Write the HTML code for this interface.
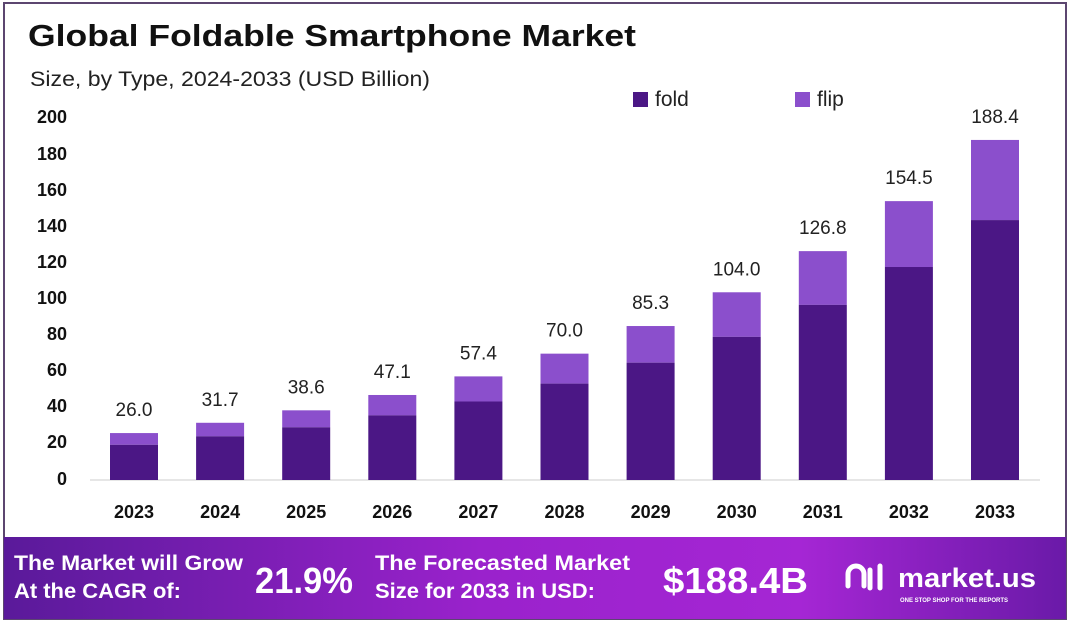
<!DOCTYPE html>
<html><head><meta charset="utf-8"><style>
html,body{margin:0;padding:0;background:#fff;}
body{width:1070px;height:622px;overflow:hidden;font-family:"Liberation Sans",sans-serif;}
</style></head><body>
<svg width="1070" height="622" viewBox="0 0 1070 622" xmlns="http://www.w3.org/2000/svg" font-family="Liberation Sans, sans-serif">
<defs>
<linearGradient id="bn" x1="0" y1="0" x2="1" y2="0">
<stop offset="0" stop-color="#5a1a9a"/>
<stop offset="0.45" stop-color="#9a22cc"/>
<stop offset="0.75" stop-color="#a526d4"/>
<stop offset="1" stop-color="#6a1aa8"/>
</linearGradient>
</defs>
<rect x="0" y="0" width="1070" height="622" fill="#fff"/>
<rect x="4" y="3" width="1062" height="616" fill="none" stroke="#5c4670" stroke-width="2"/>
<text x="28" y="46" font-size="31" font-weight="bold" fill="#111" textLength="608" lengthAdjust="spacingAndGlyphs">Global Foldable Smartphone Market</text>
<text x="30" y="86" font-size="21" fill="#222" textLength="400" lengthAdjust="spacingAndGlyphs">Size, by Type, 2024-2033 (USD Billion)</text>
<rect x="633" y="92" width="15" height="15" fill="#4b1785"/>
<text x="655" y="106" font-size="21" fill="#222">fold</text>
<rect x="795" y="92" width="15" height="15" fill="#8b4fcc"/>
<text x="817" y="106" font-size="21" fill="#222">flip</text>
<g font-size="18" font-weight="bold" fill="#111" text-anchor="end">
<text x="67" y="123">200</text><text x="67" y="160">180</text><text x="67" y="196">160</text>
<text x="67" y="232">140</text><text x="67" y="268">120</text><text x="67" y="304">100</text>
<text x="67" y="340">80</text><text x="67" y="376">60</text><text x="67" y="412">40</text>
<text x="67" y="448">20</text><text x="67" y="485">0</text>
</g>
<line x1="90" y1="480" x2="1040" y2="480" stroke="#ccc" stroke-width="1"/>
<g id="bars"></g>
<g font-size="18" font-weight="bold" fill="#111" text-anchor="middle" id="xl"></g>
<g font-size="19" fill="#222" text-anchor="middle" id="vl"></g>
<rect x="4" y="537" width="1062" height="82" fill="url(#bn)"/>
<g fill="#fff" font-weight="bold">
<text x="14" y="570" font-size="21" textLength="229" lengthAdjust="spacingAndGlyphs">The Market will Grow</text>
<text x="14" y="598" font-size="21" textLength="167" lengthAdjust="spacingAndGlyphs">At the CAGR of:</text>
<text x="255" y="593" font-size="36" textLength="98" lengthAdjust="spacingAndGlyphs">21.9%</text>
<text x="375" y="570" font-size="21" textLength="255" lengthAdjust="spacingAndGlyphs">The Forecasted Market</text>
<text x="375" y="598" font-size="21" textLength="220" lengthAdjust="spacingAndGlyphs">Size for 2033 in USD:</text>
<text x="663" y="593" font-size="36" textLength="145" lengthAdjust="spacingAndGlyphs">$188.4B</text>
<text x="898" y="587" font-size="27" textLength="138" lengthAdjust="spacingAndGlyphs">market.us</text>
<text x="900" y="602" font-size="6">ONE STOP SHOP FOR THE REPORTS</text>
</g>
<path d="M848 586 v-12 a8 8 0 0 1 16 0 v12 M870 570 v18 M880 566 v22" stroke="#fff" stroke-width="5" fill="none" stroke-linecap="round"/>
</svg>
<script>
var tot=[26.0,31.7,38.6,47.1,57.4,70.0,85.3,104.0,126.8,154.5,188.4];
var fold=[19.5,24.2,29.2,35.8,43.5,53.4,65,79.3,97,118,144];
var b=document.getElementById('bars'),xl=document.getElementById('xl'),vl=document.getElementById('vl');
var ns='http://www.w3.org/2000/svg',k=1.805,base=480;
function el(p,t,a,txt){var e=document.createElementNS(ns,t);for(var q in a)e.setAttribute(q,a[q]);if(txt)e.textContent=txt;p.appendChild(e);}
for(var i=0;i<11;i++){var cx=134+i*86.1,x=cx-24;
var ht=tot[i]*k,hf=fold[i]*k;
el(b,'rect',{x:x,y:base-ht,width:48,height:ht-hf,fill:'#8b4fcc'});
el(b,'rect',{x:x,y:base-hf,width:48,height:hf,fill:'#4b1785'});
el(xl,'text',{x:cx,y:518},String(2023+i));
el(vl,'text',{x:cx,y:base-ht-17},tot[i].toFixed(1));}
</script>
</body></html>
